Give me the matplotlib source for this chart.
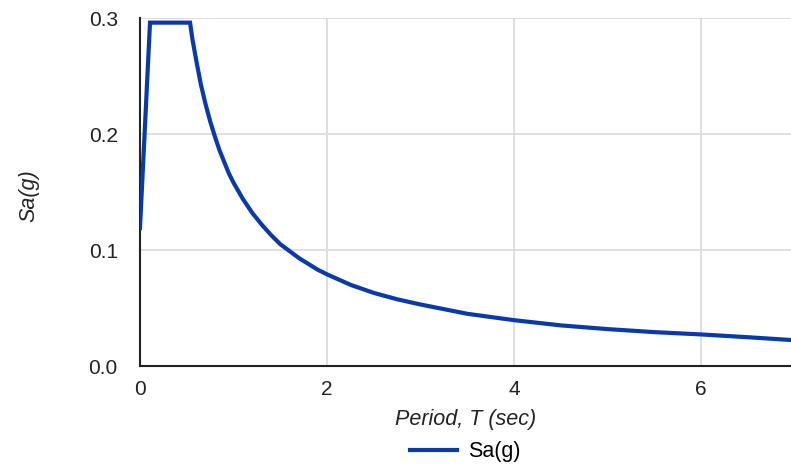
import matplotlib
matplotlib.use("Agg")
import matplotlib.pyplot as plt
from matplotlib.lines import Line2D

period_T = [0, 0.107, 0.535, 0.56, 0.6, 0.65, 0.7, 0.75, 0.8, 0.85, 0.9, 0.95,
            1.0, 1.1, 1.2, 1.3, 1.4, 1.5, 1.6, 1.7, 1.8, 1.9, 2.0, 2.25, 2.5,
            2.75, 3.0, 3.5, 4.0, 4.5, 5.0, 5.5, 6.0, 6.5, 7.0]
sa_g = [0.119, 0.296, 0.296, 0.282, 0.264, 0.243, 0.226, 0.211, 0.198, 0.186,
        0.176, 0.166, 0.158, 0.144, 0.132, 0.122, 0.113, 0.105, 0.099, 0.093,
        0.088, 0.083, 0.079, 0.070, 0.063, 0.0575, 0.053, 0.045, 0.0395,
        0.035, 0.0318, 0.0292, 0.0272, 0.0248, 0.0222]
x_ticks = [0, 2, 4, 6]
y_ticks = [0.0, 0.1, 0.2, 0.3]
y_tick_labels = ["0.0", "0.1", "0.2", "0.3"]

plt.rcParams['font.family'] = ['Liberation Sans', 'DejaVu Sans']

fig = plt.figure(figsize=(7.91, 4.68), dpi=100)
ax = fig.add_axes([140/791, 1 - 366/468, 1 - 140/791, (366 - 18)/468])

line_color = '#0a3aa8'
text_color = '#222222'
ax.plot(period_T, sa_g, color=line_color, lw=3, solid_joinstyle='miter', zorder=3)

ax.set_xlim(0, 6.96)
ax.set_ylim(0, 0.3)
ax.set_xticks(x_ticks)
ax.set_yticks(y_ticks)
ax.set_yticklabels(y_tick_labels)
ax.grid(True, color='#d9d9d9', lw=1.2)
ax.set_axisbelow(True)
for s in ['top', 'right']:
    ax.spines[s].set_visible(False)
for s in ['left', 'bottom']:
    ax.spines[s].set_color(text_color)
    ax.spines[s].set_linewidth(1.5)
ax.tick_params(axis='both', length=0, labelsize=15, colors=text_color)
ax.tick_params(axis='y', pad=16)
ax.tick_params(axis='x', pad=10)

ax.set_xlabel('Period, T (sec)', fontsize=15.5, style='italic', color=text_color)
ax.xaxis.set_label_coords(0.5, -0.125)
ax.set_ylabel('Sa(g)', fontsize=15.5, style='italic', color=text_color)
ax.yaxis.set_label_coords(-0.154, 0.49)

handle = Line2D([], [], color=line_color, lw=3)
fig.legend([handle], ['Sa(g)'], loc='center', bbox_to_anchor=(465/791, 1 - 452/468),
           frameon=False, fontsize=15.5, handlelength=2.2, handletextpad=0.5)

fig.savefig('out.png', dpi=100)
